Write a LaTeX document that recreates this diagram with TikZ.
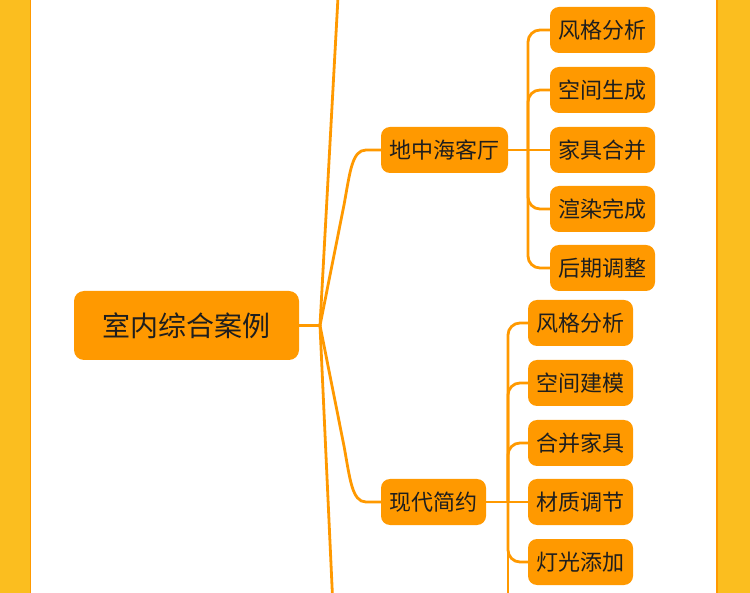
\documentclass[tikz,border=0pt]{standalone}
\usepackage{fontspec}
\newfontfamily\cjk{Noto Sans CJK SC}
\definecolor{stripyellow}{HTML}{FBBE1F}
\definecolor{nodeorange}{HTML}{FF9900}
\definecolor{textdark}{HTML}{1E1E1E}
\tikzset{
  base/.style={fill=nodeorange, text=textdark, inner sep=0pt, align=center},
  rootbox/.style={base, rounded corners=10pt, minimum width=225pt, minimum height=69pt, font=\cjk\fontsize{28}{32}\selectfont},
  midbox/.style={base, rounded corners=9pt, minimum height=46pt, font=\cjk\fontsize{22}{26}\selectfont},
  leafbox/.style={base, rounded corners=9pt, minimum width=105pt, minimum height=46pt, font=\cjk\fontsize{22}{26}\selectfont},
  link/.style={draw=nodeorange, line width=2.8pt, line cap=round},
  bracket/.style={link, rounded corners=12pt}
}
\begin{document}
\begin{tikzpicture}[x=1pt,y=-1pt]
\useasboundingbox (0,0) rectangle (750,593);
\clip (0,0) rectangle (750,593);
\fill[white] (0,0) rectangle (750,593);
\fill[stripyellow] (0,0) rectangle (30,593);
\fill[stripyellow] (717,0) rectangle (750,593);
\draw[nodeorange, line width=1.5pt] (30.5,0) -- (30.5,593);
\draw[nodeorange, line width=1.5pt] (716.8,0) -- (716.8,593);

% nodes
\node[rootbox] (root) at (186.5,325.5) {室内综合案例};
\node[midbox, minimum width=127pt] (dzh) at (444.5,150) {地中海客厅};
\node[midbox, minimum width=105pt] (xd) at (433.5,502) {现代简约};

\node[leafbox] (a1) at (602.5,30) {风格分析};
\node[leafbox] (a2) at (602.5,90) {空间生成};
\node[leafbox] (a3) at (602.5,150) {家具合并};
\node[leafbox] (a4) at (602.5,209) {渲染完成};
\node[leafbox] (a5) at (602.5,268) {后期调整};

\node[leafbox] (b1) at (580.5,323) {风格分析};
\node[leafbox] (b2) at (580.5,383) {空间建模};
\node[leafbox] (b3) at (580.5,443) {合并家具};
\node[leafbox] (b4) at (580.5,502) {材质调节};
\node[leafbox] (b5) at (580.5,562) {灯光添加};

% junctions and off-frame ends
\coordinate (rj) at (320,325.5);
\coordinate (topend) at (339.5,-30);
\coordinate (botend) at (334.5,640);
\coordinate (aj) at (528,150);
\coordinate (bj) at (508,502);
\coordinate (bend) at (508,640);

% connectors
\draw[link] (root.east) -- (rj);
\draw[link] (rj) -- (topend);
\draw[link] (rj) -- (botend);
\draw[link] (rj) -- (344,205) .. controls (350,172) and (352,150) .. (366,150) -- (dzh.west);
\draw[link] (rj) -- (344,446) .. controls (350,479) and (352,502) .. (366,502) -- (xd.west);

\draw[link] (dzh.east) -- (aj);
\draw[bracket] (aj) |- (a1.west);
\draw[bracket] (aj) |- (a2.west);
\draw[link] (aj) -- (a3.west);
\draw[bracket] (aj) |- (a4.west);
\draw[bracket] (aj) |- (a5.west);

\draw[link] (xd.east) -- (bj);
\draw[bracket] (bj) |- (b1.west);
\draw[bracket] (bj) |- (b2.west);
\draw[bracket] (bj) |- (b3.west);
\draw[link] (bj) -- (b4.west);
\draw[bracket] (bj) |- (b5.west);
\draw[link] (bj) -- (bend);
\end{tikzpicture}
\end{document}
